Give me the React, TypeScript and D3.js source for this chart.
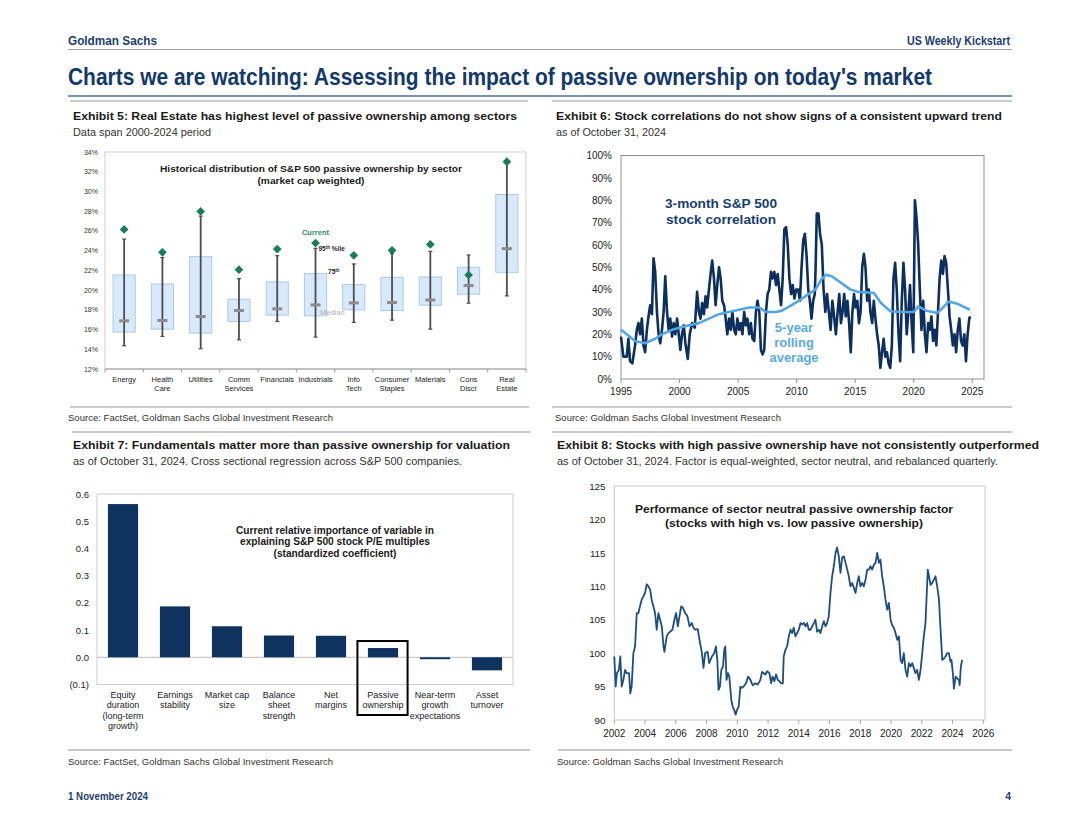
import React from "react";
import * as d3 from "d3";

const SANS = '"Liberation Sans", Arial, Helvetica, sans-serif';
const NARROW = '"Liberation Sans Narrow", "Liberation Sans", Arial, sans-serif';
const NAVY = "#1b3d6e";
const TEXT = "#1a1a1a";

// ---------- Exhibit 5 data ----------
const sectorNames = ["Energy", "Health Care", "Utilities", "Comm Services", "Financials", "Industrials", "Info Tech", "Consumer Staples", "Materials", "Cons Discr", "Real Estate"];
const sectorLabelLines = [["Energy"], ["Health", "Care"], ["Utilities"], ["Comm", "Services"], ["Financials"], ["Industrials"], ["Info", "Tech"], ["Consumer", "Staples"], ["Materials"], ["Cons", "Discr"], ["Real", "Estate"]];
const sectorCurrent = [26.15, 23.83, 27.97, 22.07, 24.16, 24.77, 23.52, 24.03, 24.63, 21.53, 33.02];
const sectorP95 = [25.17, 23.3, 27.5, 21.16, 23.49, 24.23, 22.65, 23.7, 23.93, 23.56, 32.8];
const sectorP75 = [21.53, 20.62, 23.39, 19.07, 20.83, 21.67, 20.56, 21.3, 21.33, 22.31, 29.69];
const sectorMedian = [16.88, 16.92, 17.32, 17.93, 18.1, 18.5, 18.7, 18.74, 19.0, 20.46, 24.2];
const sectorP25 = [15.74, 16.04, 15.64, 16.82, 17.46, 17.39, 18.0, 17.93, 18.47, 19.58, 21.8];
const sectorP5 = [14.36, 15.3, 14.05, 14.96, 16.82, 15.23, 16.72, 16.95, 16.04, 18.67, 19.41];
const ex5Ticks = [12, 14, 16, 18, 20, 22, 24, 26, 28, 30, 32, 34];

// ---------- Exhibit 6 data ----------
const corr3m: [number, number][] = [
  [1995.00, 19], [1995.20, 10], [1995.49, 10], [1995.63, 18], [1995.77, 8], [1995.97, 7], [1996.20, 15], [1996.35, 22], [1996.49, 25], [1996.63, 20], [1996.78, 27], [1996.92, 15], [1997.06, 12], [1997.21, 22], [1997.35, 28], [1997.49, 33], [1997.64, 29], [1997.78, 54], [1997.92, 48], [1998.07, 30], [1998.21, 20], [1998.35, 16], [1998.50, 22], [1998.64, 30], [1998.78, 46], [1998.93, 30], [1999.07, 22], [1999.21, 27], [1999.36, 19], [1999.50, 25], [1999.64, 20], [1999.79, 27], [1999.93, 20],
  [2000.07, 13], [2000.21, 20], [2000.36, 24], [2000.50, 16], [2000.70, 9], [2000.87, 20], [2001.07, 25], [2001.30, 23], [2001.50, 39], [2001.65, 30], [2001.79, 27], [2001.93, 34], [2002.08, 29], [2002.22, 37], [2002.36, 32], [2002.51, 40], [2002.65, 47], [2002.79, 53], [2002.94, 45], [2003.08, 33], [2003.22, 42], [2003.37, 50], [2003.51, 45], [2003.65, 35], [2003.80, 33], [2003.94, 27], [2004.08, 20], [2004.23, 27], [2004.37, 22], [2004.51, 30], [2004.66, 22], [2004.80, 20], [2004.94, 27],
  [2005.09, 22], [2005.23, 25], [2005.37, 20], [2005.52, 30], [2005.66, 24], [2005.80, 27], [2005.95, 20], [2006.09, 25], [2006.23, 18], [2006.38, 17], [2006.52, 30], [2006.66, 35], [2006.81, 30], [2006.95, 13], [2007.09, 11], [2007.23, 13], [2007.38, 30], [2007.52, 38], [2007.66, 40], [2007.81, 48], [2007.95, 45], [2008.09, 48], [2008.24, 42], [2008.38, 47], [2008.52, 40], [2008.67, 33], [2008.81, 45], [2008.95, 67], [2009.10, 68], [2009.24, 60], [2009.38, 45], [2009.53, 38], [2009.67, 42], [2009.81, 36], [2009.96, 40],
  [2010.14, 40], [2010.28, 35], [2010.42, 50], [2010.56, 62], [2010.70, 65], [2010.85, 55], [2010.99, 40], [2011.13, 35], [2011.27, 27], [2011.41, 35], [2011.55, 38], [2011.62, 50], [2011.72, 74], [2011.86, 74], [2012.00, 65], [2012.15, 60], [2012.30, 40], [2012.45, 30], [2012.60, 38], [2012.75, 30], [2012.90, 22], [2013.05, 35], [2013.20, 28], [2013.35, 20], [2013.50, 30], [2013.64, 38], [2013.78, 25], [2013.92, 30], [2014.06, 38], [2014.20, 28], [2014.34, 35], [2014.48, 25], [2014.62, 12], [2014.76, 30], [2014.90, 38],
  [2015.04, 32], [2015.18, 35], [2015.32, 25], [2015.46, 30], [2015.60, 50], [2015.74, 56], [2015.88, 50], [2016.02, 35], [2016.16, 40], [2016.30, 30], [2016.45, 25], [2016.59, 35], [2016.73, 27], [2016.87, 20], [2017.01, 15], [2017.15, 5], [2017.29, 12], [2017.43, 18], [2017.57, 10], [2017.71, 12], [2017.85, 7], [2017.99, 5], [2018.13, 15], [2018.27, 45], [2018.41, 52], [2018.55, 40], [2018.70, 20], [2018.84, 8], [2018.98, 35], [2019.12, 52], [2019.26, 40], [2019.40, 20], [2019.54, 30], [2019.68, 42], [2019.82, 25], [2019.96, 12],
  [2020.10, 80], [2020.24, 72], [2020.38, 60], [2020.52, 40], [2020.66, 22], [2020.81, 35], [2020.95, 20], [2021.09, 12], [2021.23, 25], [2021.37, 22], [2021.51, 28], [2021.65, 17], [2021.79, 22], [2021.93, 15], [2022.07, 30], [2022.21, 45], [2022.35, 53], [2022.49, 47], [2022.63, 55], [2022.77, 52], [2022.92, 40], [2023.06, 28], [2023.20, 22], [2023.34, 15], [2023.48, 20], [2023.62, 12], [2023.76, 22], [2023.90, 27], [2024.04, 17], [2024.18, 15], [2024.32, 20], [2024.46, 8], [2024.60, 20], [2024.74, 27], [2024.83, 28],
];
const corr5yAvg: [number, number][] = [
  [1995.00, 22], [1995.49, 20], [1996.20, 17], [1997.06, 16], [1997.92, 18], [1998.50, 20], [1999.36, 22], [2000.79, 24], [2001.65, 25], [2002.51, 27], [2003.37, 29], [2004.23, 30], [2005.09, 31], [2005.95, 32], [2006.81, 32], [2007.38, 30], [2008.24, 30], [2008.70, 30.5], [2009.40, 32.5], [2010.10, 34.7], [2011.00, 38], [2011.60, 40], [2012.10, 44.4], [2012.50, 46.6], [2013.00, 46], [2013.80, 43], [2014.60, 40], [2015.20, 39], [2016.10, 38.7], [2016.60, 38.5], [2017.20, 34], [2018.00, 30.3], [2019.00, 30], [2020.00, 30], [2020.40, 32.5], [2021.10, 30.5], [2022.00, 29.5], [2022.50, 32], [2023.00, 34.7], [2023.70, 33.7], [2024.80, 31],
];
const ex6YTicks = [0, 10, 20, 30, 40, 50, 60, 70, 80, 90, 100];
const ex6XTicks = [1995, 2000, 2005, 2010, 2015, 2020, 2025];

// ---------- Exhibit 7 data ----------
const factorNames = ["Equity duration", "Earnings stability", "Market cap size", "Balance sheet strength", "Net margins", "Passive ownership", "Near-term growth expectations", "Asset turnover"];
const factorLabelLines = [["Equity", "duration", "(long-term", "growth)"], ["Earnings", "stability"], ["Market cap", "size"], ["Balance", "sheet", "strength"], ["Net", "margins"], ["Passive", "ownership"], ["Near-term", "growth", "expectations"], ["Asset", "turnover"]];
const factorCoefs = [0.563, 0.187, 0.114, 0.080, 0.079, 0.034, -0.007, -0.048];
const ex7Ticks = [-0.1, 0, 0.1, 0.2, 0.3, 0.4, 0.5, 0.6];

// ---------- Exhibit 8 data ----------
const factorPerf: [number, number][] = [
  [2002.00, 99.5], [2002.09, 95], [2002.17, 97], [2002.30, 97.5], [2002.39, 99.5], [2002.48, 95], [2002.59, 96], [2002.70, 97.5], [2002.80, 97], [2002.96, 97], [2003.04, 94], [2003.13, 95], [2003.24, 100], [2003.35, 101], [2003.46, 106], [2003.57, 106], [2003.67, 107], [2003.78, 108], [2003.89, 108.5], [2004.00, 109], [2004.11, 110.3], [2004.22, 110], [2004.33, 109.5], [2004.43, 108], [2004.54, 107], [2004.65, 106], [2004.76, 103.5], [2004.87, 106], [2004.98, 105],
  [2005.09, 104], [2005.20, 101], [2005.26, 100.2], [2005.41, 102.5], [2005.52, 103], [2005.63, 103.2], [2005.78, 103.5], [2005.91, 105], [2006.02, 106], [2006.13, 104], [2006.24, 105.5], [2006.35, 107], [2006.46, 106.8], [2006.61, 106], [2006.76, 105.5], [2006.89, 104], [2007.04, 104.5], [2007.15, 103.8], [2007.26, 103.5], [2007.43, 103.6], [2007.54, 102], [2007.70, 100], [2007.80, 97.8], [2007.91, 100], [2008.07, 100.2], [2008.17, 98.5], [2008.35, 99.5], [2008.50, 100], [2008.61, 101], [2008.70, 99], [2008.78, 94.5], [2008.87, 95], [2008.96, 97.5],
  [2009.07, 98], [2009.15, 100.5], [2009.22, 101], [2009.30, 96], [2009.39, 97], [2009.48, 96.5], [2009.61, 93], [2009.70, 92], [2009.80, 91.5], [2009.89, 90.8], [2009.98, 91.5], [2010.09, 92], [2010.20, 95], [2010.30, 94.8], [2010.41, 95], [2010.57, 95.5], [2010.70, 96.5], [2010.85, 96], [2011.00, 95.2], [2011.17, 95.5], [2011.33, 95.3], [2011.50, 96], [2011.61, 97.2], [2011.72, 97], [2011.83, 96.8], [2011.93, 97.3], [2012.09, 97], [2012.20, 95.5], [2012.30, 96.5], [2012.41, 95.8], [2012.52, 96.8], [2012.63, 96], [2012.74, 95.8], [2012.85, 95.5], [2012.96, 95.5],
  [2013.02, 99.5], [2013.13, 100.5], [2013.24, 101], [2013.35, 102.5], [2013.46, 103.5], [2013.57, 103], [2013.67, 103.8], [2013.78, 102.5], [2013.89, 103], [2014.00, 103.5], [2014.11, 104.5], [2014.22, 104.3], [2014.33, 104.5], [2014.43, 104], [2014.54, 104.5], [2014.65, 103.5], [2014.76, 103.5], [2014.87, 104], [2014.98, 104.5], [2015.08, 105], [2015.19, 103.2], [2015.30, 103.5], [2015.41, 103], [2015.52, 104], [2015.63, 104.8], [2015.74, 104], [2015.84, 104.5], [2015.95, 105.5],
  [2016.06, 109], [2016.17, 111.5], [2016.28, 113], [2016.39, 115], [2016.49, 115.8], [2016.60, 114.5], [2016.71, 112], [2016.82, 114.3], [2016.93, 114.5], [2017.04, 113.5], [2017.15, 112.5], [2017.25, 111.5], [2017.36, 110], [2017.47, 110.5], [2017.58, 109.8], [2017.69, 109], [2017.80, 110.5], [2017.90, 111.5], [2018.01, 110], [2018.12, 110.5], [2018.23, 110], [2018.34, 111], [2018.45, 112.5], [2018.56, 112.5], [2018.66, 113], [2018.77, 112.5], [2018.88, 113.2], [2018.99, 113.5], [2019.10, 115], [2019.21, 113.5], [2019.31, 114], [2019.42, 111.5], [2019.53, 110], [2019.64, 108], [2019.75, 106.5], [2019.86, 107.5], [2019.97, 105],
  [2020.07, 104.2], [2020.18, 103.8], [2020.29, 103], [2020.40, 102], [2020.51, 102.5], [2020.62, 99], [2020.72, 98.5], [2020.83, 100], [2020.94, 97.5], [2021.05, 96.5], [2021.16, 98.5], [2021.27, 98], [2021.38, 98.5], [2021.48, 97.8], [2021.59, 97], [2021.70, 97.5], [2021.81, 96], [2021.92, 97.5], [2022.03, 100], [2022.13, 102.5], [2022.24, 104.5], [2022.39, 112.5], [2022.57, 110.2], [2022.68, 110.5], [2022.79, 111], [2022.89, 111.5], [2023.00, 110], [2023.11, 108.2], [2023.22, 103.5], [2023.33, 99], [2023.44, 99.2], [2023.54, 99.5], [2023.65, 100], [2023.76, 100], [2023.87, 98.7], [2023.93, 99], [2024.02, 97], [2024.09, 94.7], [2024.20, 96.5], [2024.30, 96.2], [2024.41, 96], [2024.46, 95.2], [2024.54, 98], [2024.63, 99],
];
const ex8YTicks = [90, 95, 100, 105, 110, 115, 120, 125];
const ex8XTicks = [2002, 2004, 2006, 2008, 2010, 2012, 2014, 2016, 2018, 2020, 2022, 2024, 2026];

type TP = {
  x: number; y: number; size?: number; weight?: string | number; fill?: string;
  anchor?: "start" | "middle" | "end"; len?: number; family?: string; children: React.ReactNode;
};
const Txt = ({ x, y, size = 10, weight = "normal", fill = TEXT, anchor = "start", len, family = SANS, children }: TP) => (
  <text x={x} y={y} fontSize={size} fontWeight={weight} fill={fill} textAnchor={anchor} fontFamily={family}
    {...(len ? { textLength: len, lengthAdjust: "spacingAndGlyphs" } : {})}>{children}</text>
);

function Exhibit5() {
  const x = d3.scaleBand<string>().domain(sectorNames).range([105, 526]).padding(0);
  const y = d3.scaleLinear().domain([12, 34]).range([369, 152]);
  const bw = x.bandwidth() * 0.58;
  const diamond = d3.symbol().type(d3.symbolSquare).size(38)() as string;
  const iInd = sectorNames.indexOf("Industrials");
  const cInd = (x("Industrials") as number) + x.bandwidth() / 2;
  return (
    <g>
      <rect x={105} y={152} width={421} height={217} fill="none" stroke="#cfcfcf" strokeWidth={1} />
      <line x1={105} x2={526} y1={369} y2={369} stroke="#9a9a9a" strokeWidth={1.2} />
      {sectorNames.map((s) => (
        <line key={s} x1={x(s) as number} x2={x(s) as number} y1={369} y2={372.5} stroke="#9a9a9a" />
      ))}
      <line x1={526} x2={526} y1={369} y2={372.5} stroke="#9a9a9a" />
      {ex5Ticks.map((t) => (
        <Txt key={t} x={98} y={y(t) + 2.5} size={7} anchor="end" fill="#333">{t}%</Txt>
      ))}
      <Txt x={311} y={171.5} size={9.5} weight="bold" anchor="middle" len={302}>Historical distribution of S&amp;P 500 passive ownership by sector</Txt>
      <Txt x={311} y={183.5} size={9.5} weight="bold" anchor="middle" len={107}>(market cap weighted)</Txt>
      {sectorNames.map((s, i) => {
        const cx = (x(s) as number) + x.bandwidth() / 2;
        return (
          <g key={s}>
            <rect x={cx - bw / 2} y={y(sectorP75[i])} width={bw} height={y(sectorP25[i]) - y(sectorP75[i])}
              fill="#d8e9fb" stroke="#abc9ea" strokeWidth={1} />
            <line x1={cx} x2={cx} y1={y(sectorP5[i])} y2={y(sectorP95[i])} stroke="#4d4d4d" strokeWidth={1.8} />
            <line x1={cx - 2} x2={cx + 2} y1={y(sectorP5[i])} y2={y(sectorP5[i])} stroke="#4d4d4d" strokeWidth={1.2} />
            <line x1={cx - 2} x2={cx + 2} y1={y(sectorP95[i])} y2={y(sectorP95[i])} stroke="#4d4d4d" strokeWidth={1.2} />
            <rect x={cx - 5} y={y(sectorMedian[i]) - 1.5} width={10} height={3} fill="#8c8c8c" />
            <path d={diamond} transform={`translate(${cx},${y(sectorCurrent[i])}) rotate(45)`} fill="#1a7d5a" />
            {sectorLabelLines[i].map((l, k) => (
              <Txt key={k} x={cx} y={381.5 + k * 9} size={7.5} anchor="middle" fill="#222">{l}</Txt>
            ))}
          </g>
        );
      })}
      <Txt x={cInd} y={y(sectorCurrent[iInd]) - 8} size={7.5} weight="bold" anchor="middle" fill="#2e8a68">Current</Txt>
      <text x={cInd + 3} y={y(sectorP95[iInd]) + 3} fontSize={6.5} fontWeight="bold" fontFamily={SANS} fill="#222">
        95<tspan fontSize={4.5} dy={-2.5}>th</tspan><tspan dy={2.5}> %ile</tspan>
      </text>
      <text x={cInd + bw / 2 + 1.5} y={y(sectorP75[iInd]) + 0.5} fontSize={6.5} fontWeight="bold" fontFamily={SANS} fill="#222">
        75<tspan fontSize={4.5} dy={-2.5}>th</tspan>
      </text>
      <Txt x={cInd + 4.5} y={y(sectorMedian[iInd]) + 10.5} size={7.5} fill="#b0b0b0">Median</Txt>
    </g>
  );
}

function Exhibit6() {
  const x = d3.scaleLinear().domain([1995, 2026]).range([621, 984]);
  const y = d3.scaleLinear().domain([0, 100]).range([379, 155.5]);
  const line = d3.line<[number, number]>().x((d) => x(d[0])).y((d) => y(d[1]));
  return (
    <g>
      <rect x={621} y={155.5} width={363} height={223.5} fill="none" stroke="#8f8f8f" strokeWidth={1} />
      {ex6YTicks.map((t) => (
        <Txt key={t} x={612} y={y(t) + 3.7} size={10} anchor="end" fill="#222">{t}%</Txt>
      ))}
      {ex6XTicks.map((t) => (
        <g key={t}>
          <line x1={x(t)} x2={x(t)} y1={379} y2={383} stroke="#8f8f8f" />
          <Txt x={x(t)} y={395} size={10} anchor="middle" fill="#222">{t}</Txt>
        </g>
      ))}
      <path d={line(corr3m) as string} fill="none" stroke="#0c2f5e" strokeWidth={2.6} strokeLinejoin="round" />
      <path d={line(corr5yAvg) as string} fill="none" stroke="#54a5e4" strokeWidth={2.6} strokeLinejoin="round" />
      <Txt x={721} y={208} size={13} weight="bold" anchor="middle" fill="#173e6e" len={112}>3-month S&amp;P 500</Txt>
      <Txt x={721} y={223.5} size={13} weight="bold" anchor="middle" fill="#173e6e" len={110}>stock correlation</Txt>
      <Txt x={794} y={331.5} size={13} weight="bold" anchor="middle" fill="#5aaae6">5-year</Txt>
      <Txt x={794} y={346.5} size={13} weight="bold" anchor="middle" fill="#5aaae6">rolling</Txt>
      <Txt x={794} y={361.5} size={13} weight="bold" anchor="middle" fill="#5aaae6">average</Txt>
    </g>
  );
}

function Exhibit7() {
  const x = d3.scaleBand<string>().domain(factorNames).range([97, 513]).paddingInner(0.42).paddingOuter(0.21);
  const y = d3.scaleLinear().domain([-0.1, 0.6]).range([684.5, 494]);
  const fmt = (v: number) => (v < -1e-9 ? `(${Math.abs(v).toFixed(1)})` : Math.abs(v).toFixed(1));
  const pi = factorNames.indexOf("Passive ownership");
  const px = x("Passive ownership") as number;
  return (
    <g>
      <rect x={97} y={494} width={416} height={190.5} fill="none" stroke="#cccccc" strokeWidth={1} />
      <line x1={97} x2={513} y1={y(0)} y2={y(0)} stroke="#bdbdbd" strokeWidth={1} />
      {ex7Ticks.map((t) => (
        <Txt key={t} x={89} y={y(t) + 3.5} size={9.5} anchor="end" fill="#222">{fmt(t)}</Txt>
      ))}
      {factorNames.map((f, i) => {
        const v = factorCoefs[i];
        const bx = x(f) as number;
        return (
          <g key={f}>
            <rect x={bx} y={y(Math.max(0, v))} width={x.bandwidth()} height={Math.abs(y(v) - y(0))} fill="#0f335f" />
            {factorLabelLines[i].map((l, k) => (
              <Txt key={k} x={bx + x.bandwidth() / 2} y={698 + k * 10.3} size={9} anchor="middle" fill="#222">{l}</Txt>
            ))}
          </g>
        );
      })}
      <rect x={px - 10.5} y={y(factorCoefs[pi]) - 7} width={x.bandwidth() + 20} height={715 - (y(factorCoefs[pi]) - 7)}
        fill="none" stroke="#000" strokeWidth={2} />
      <Txt x={335} y={533.5} size={10} weight="bold" anchor="middle" len={198}>Current relative importance of variable in</Txt>
      <Txt x={335} y={545} size={10} weight="bold" anchor="middle" len={190}>explaining S&amp;P 500 stock P/E multiples</Txt>
      <Txt x={335} y={556.5} size={10} weight="bold" anchor="middle" len={123}>(standardized coefficient)</Txt>
    </g>
  );
}

function Exhibit8() {
  const x = d3.scaleLinear().domain([2002, 2026]).range([614.3, 983.3]);
  const y = d3.scaleLinear().domain([90, 125]).range([720, 486]);
  const line = d3.line<[number, number]>().x((d) => x(d[0])).y((d) => y(d[1]));
  return (
    <g>
      <rect x={614.3} y={486} width={370.7} height={234} fill="none" stroke="#c8c8c8" strokeWidth={1} />
      {ex8YTicks.map((t) => (
        <Txt key={t} x={605.5} y={y(t) + 3.7} size={9.8} anchor="end" fill="#222">{t}</Txt>
      ))}
      {ex8XTicks.map((t) => (
        <g key={t}>
          <line x1={x(t)} x2={x(t)} y1={720} y2={724} stroke="#a8a8a8" />
          <Txt x={x(t)} y={736.5} size={10} anchor="middle" fill="#222">{t}</Txt>
        </g>
      ))}
      <path d={line(factorPerf) as string} fill="none" stroke="#1f4e7d" strokeWidth={1.8} strokeLinejoin="round" />
      <Txt x={794} y={512.5} size={11} weight="bold" anchor="middle" len={318}>Performance of sector neutral passive ownership factor</Txt>
      <Txt x={794} y={527} size={11} weight="bold" anchor="middle" len={258}>(stocks with high vs. low passive ownership)</Txt>
    </g>
  );
}

export default function App() {
  const sep = "#b8b8b8";
  return (
    <svg width={1080} height={835} viewBox="0 0 1080 835"
      style={{ position: "absolute", left: 0, top: 0, background: "#fff" }}>
      <rect x={0} y={0} width={1080} height={835} fill="#fff" />
      {/* header */}
      <Txt x={68} y={45} size={13} weight="bold" fill={NAVY} family={NARROW} len={89}>Goldman Sachs</Txt>
      <Txt x={1010} y={45} size={12} weight="bold" fill={NAVY} family={NARROW} anchor="end" len={103}>US Weekly Kickstart</Txt>
      <line x1={68} x2={1012} y1={49.5} y2={49.5} stroke="#a0a0a0" strokeWidth={1} />
      <Txt x={68} y={85} size={23} weight="bold" fill="#13386a" family={NARROW} len={864}>Charts we are watching: Assessing the impact of passive ownership on today's market</Txt>
      <line x1={68} x2={1012} y1={96} y2={96} stroke="#4a6f9c" strokeWidth={1.6} />
      <line x1={70} x2={528} y1={101} y2={101} stroke={sep} strokeWidth={1.5} />
      <line x1={552} x2={1012} y1={101} y2={101} stroke={sep} strokeWidth={1.5} />

      {/* exhibit titles top */}
      <Txt x={73} y={119.5} size={11} weight="bold" len={444}>Exhibit 5: Real Estate has highest level of passive ownership among sectors</Txt>
      <Txt x={73} y={136} size={10.5} fill="#333" len={138}>Data span 2000-2024 period</Txt>
      <Txt x={556} y={119.5} size={11} weight="bold" len={446}>Exhibit 6: Stock correlations do not show signs of a consistent upward trend</Txt>
      <Txt x={556} y={136} size={10.5} fill="#333" len={110}>as of October 31, 2024</Txt>

      <Exhibit5 />
      <Exhibit6 />

      {/* middle sources */}
      <line x1={70} x2={529} y1={407} y2={407} stroke={sep} strokeWidth={1.5} />
      <line x1={552} x2={1012} y1={407} y2={407} stroke={sep} strokeWidth={1.5} />
      <Txt x={68} y={421} size={9} fill="#333" len={265}>Source: FactSet, Goldman Sachs Global Investment Research</Txt>
      <Txt x={555} y={421} size={9} fill="#333" len={226}>Source: Goldman Sachs Global Investment Research</Txt>
      <line x1={72} x2={531} y1={432} y2={432} stroke={sep} strokeWidth={1.5} />
      <line x1={552} x2={1012} y1={432} y2={432} stroke={sep} strokeWidth={1.5} />

      <Txt x={73} y={448.5} size={11} weight="bold" len={437}>Exhibit 7: Fundamentals matter more than passive ownership for valuation</Txt>
      <Txt x={73} y={465} size={10.5} fill="#333" len={389}>as of October 31, 2024. Cross sectional regression across S&amp;P 500 companies.</Txt>
      <Txt x={557} y={448.5} size={11} weight="bold" len={482}>Exhibit 8: Stocks with high passive ownership have not consistently outperformed</Txt>
      <Txt x={557} y={465} size={10.5} fill="#333" len={441}>as of October 31, 2024. Factor is equal-weighted, sector neutral, and rebalanced quarterly.</Txt>

      <Exhibit7 />
      <Exhibit8 />

      {/* bottom sources */}
      <line x1={68} x2={530} y1={750} y2={750} stroke={sep} strokeWidth={1.5} />
      <line x1={558} x2={1012} y1={750} y2={750} stroke={sep} strokeWidth={1.5} />
      <Txt x={68} y={764.5} size={9} fill="#333" len={265}>Source: FactSet, Goldman Sachs Global Investment Research</Txt>
      <Txt x={557} y={764.5} size={9} fill="#333" len={226}>Source: Goldman Sachs Global Investment Research</Txt>

      {/* footer */}
      <Txt x={68} y={800} size={10.5} weight="bold" fill={NAVY} family={NARROW} len={80}>1 November 2024</Txt>
      <Txt x={1011} y={800} size={10.5} weight="bold" fill={NAVY} family={NARROW} anchor="end">4</Txt>
    </svg>
  );
}
